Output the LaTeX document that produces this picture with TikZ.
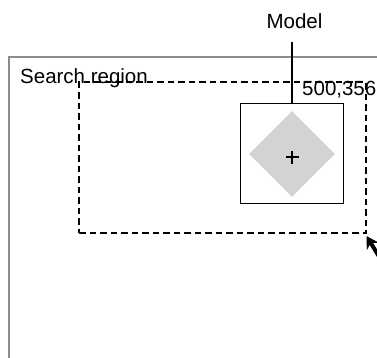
\documentclass[tikz,border=0pt]{standalone}
\usepackage{fontspec}
\setmainfont{Liberation Sans}
\usetikzlibrary{arrows.meta,shapes.geometric}
\definecolor{framegray}{HTML}{8C8C8C}
\definecolor{diagray}{HTML}{D3D3D3}
\tikzset{
  lbl/.style={inner sep=0pt,font=\fontsize{20.5}{24}\selectfont},
  regionbox/.style={draw,dashed,dash pattern=on 6.5pt off 4pt,line width=1.2pt,inner sep=0pt},
  modelbox/.style={draw,line width=1.2pt,inner sep=0pt},
  dia/.style={diamond,fill=diagray,inner sep=0pt},
}
\begin{document}
\begin{tikzpicture}[x=1pt,y=-1pt]
\useasboundingbox (0,0) rectangle (377,357);
\clip (0,0) rectangle (377,357);
% outer frame
\draw[framegray,line width=2pt] (9,400) |- (420,57);
% search region
\node[regionbox,minimum width=287pt,minimum height=151pt] (region) at (222.5,157.5) {};
% model box
\node[modelbox,minimum width=103pt,minimum height=100pt] (model) at (292,153.5) {};
\node[dia,minimum width=86pt,minimum height=86pt] (diam) at (292,154) {};
\coordinate (pc) at (292,157);
\draw[line width=1.8pt] ([xshift=-6.5pt]pc) -- ([xshift=6.5pt]pc) ([yshift=-6.5pt]pc) -- ([yshift=6.5pt]pc);
% labels
\node[lbl,anchor=base] (mlabel) at (294.5,28) {Model};
\node[lbl,anchor=base west] (slabel) at (20,83) {Search region};
\node[lbl,anchor=base west] (clabel) at (302,95) {500,356};
\coordinate (ltop) at (292,42);
\draw[line width=1.2pt] (ltop) -- (model.north);
% arrow
\coordinate (atail) at (386,268);
\draw[line width=4pt,-{Stealth[length=12pt,width=14pt]}] (atail) -- ([shift={(0,2.5)}]region.south east);
\end{tikzpicture}
\end{document}
